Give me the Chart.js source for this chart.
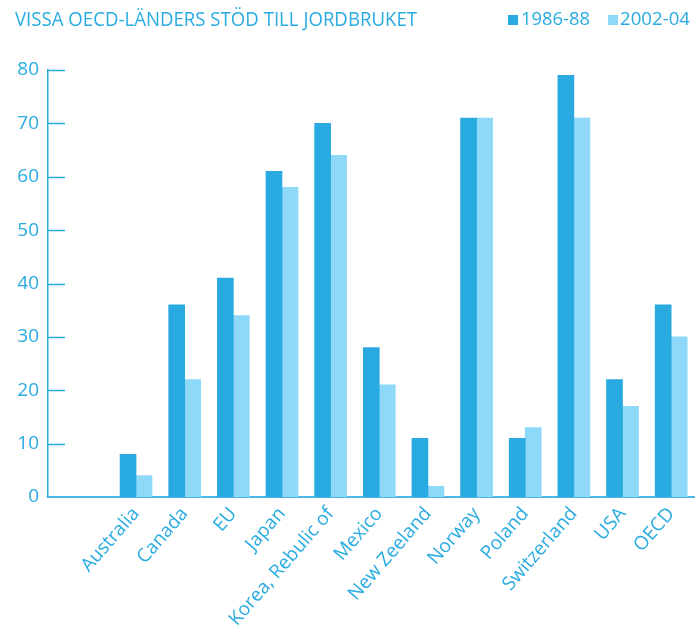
<!DOCTYPE html>
<html>
<head>
<meta charset="utf-8">
<script src="https://cdn.jsdelivr.net/npm/chart.js@4/dist/chart.umd.min.js"></script>
<style>
  html, body { margin: 0; padding: 0; background: #fff; }
  #wrap { width: 695px; height: 637px; }
</style>
</head>
<body>
<div id="wrap"><canvas id="chart" width="695" height="637"></canvas></div>
<script>
const titleText = 'VISSA OECD-LÄNDERS STÖD TILL JORDBRUKET';
const countries = ['Australia', 'Canada', 'EU', 'Japan', 'Korea, Rebulic of', 'Mexico',
    'New Zeeland', 'Norway', 'Poland', 'Switzerland', 'USA', 'OECD'];
const support1986 = [8, 36, 41, 61, 70, 28, 11, 71, 11, 79, 22, 36];
const support2002 = [4, 22, 34, 58, 64, 21, 2, 71, 13, 71, 17, 30];
const yTicks = [0, 10, 20, 30, 40, 50, 60, 70, 80];

const blue = '#29abe2';
const lightBlue = '#8ed8f8';
const font = "'Open Sans', sans-serif";

// title, legend and the short inward tick marks on the y axis
const decor = {
    id: 'decor',
    afterDraw(chart) {
        const ctx = chart.ctx;
        const y = chart.scales.y;
        ctx.save();
        ctx.strokeStyle = blue;
        ctx.lineWidth = 1.5;
        yTicks.forEach(v => {
            if (v === 0) return;
            const py = Math.round(y.getPixelForValue(v)) + 0.5;
            ctx.beginPath();
            ctx.moveTo(chart.chartArea.left, py);
            ctx.lineTo(chart.chartArea.left + 17, py);
            ctx.stroke();
        });

        ctx.fillStyle = blue;
        ctx.textBaseline = 'alphabetic';
        ctx.textAlign = 'left';
        ctx.font = '19.5px ' + font;
        ctx.fillText(titleText, 15, 26, 402);

        ctx.font = '19px ' + font;
        const legendPos = [[508, 521, 69], [608, 620, 70]];
        chart.data.datasets.forEach((ds, i) => {
            const [bx, tx, w] = legendPos[i];
            ctx.fillStyle = ds.backgroundColor;
            ctx.fillRect(bx, 15, 10, 10);
            ctx.fillStyle = blue;
            ctx.fillText(ds.label, tx, 25, w);
        });
        ctx.restore();
    }
};

new Chart(document.getElementById('chart'), {
    type: 'bar',
    data: {
        datasets: [{
            label: '1986-88',
            data: support1986.map((v, i) => ({ x: i, y: v })),
            backgroundColor: blue,
            barThickness: 16
        }, {
            label: '2002-04',
            data: support2002.map((v, i) => ({ x: i, y: v })),
            backgroundColor: lightBlue,
            barThickness: 16
        }]
    },
    options: {
        responsive: false,
        animation: false,
        layout: { padding: { top: 70, right: 0, bottom: 0, left: 0 } },
        plugins: {
            legend: { display: false },
            title: { display: false },
            tooltip: { enabled: false }
        },
        scales: {
            x: {
                type: 'linear',
                offset: false,
                min: -1.81,
                max: 11.49,
                afterBuildTicks: scale => {
                    scale.ticks = countries.map((c, i) => ({ value: i }));
                },
                afterFit: scale => { scale.height = 140; },
                grid: { display: false, drawTicks: false, offset: false },
                border: { display: true, color: '#4db8e8', width: 2 },
                ticks: {
                    autoSkip: false,
                    maxRotation: 49,
                    minRotation: 49,
                    padding: 6,
                    color: blue,
                    font: { family: font, size: 19 },
                    callback: v => countries[v]
                }
            },
            y: {
                min: 0,
                max: 80,
                afterBuildTicks: scale => {
                    scale.ticks = yTicks.map(v => ({ value: v }));
                },
                afterFit: scale => { scale.width = 48; },
                grid: { display: false, drawTicks: false },
                border: { display: true, color: blue, width: 1.5 },
                ticks: {
                    padding: 9,
                    color: blue,
                    font: { family: font, size: 19 }
                }
            }
        }
    },
    plugins: [decor]
});
</script>
</body>
</html>
